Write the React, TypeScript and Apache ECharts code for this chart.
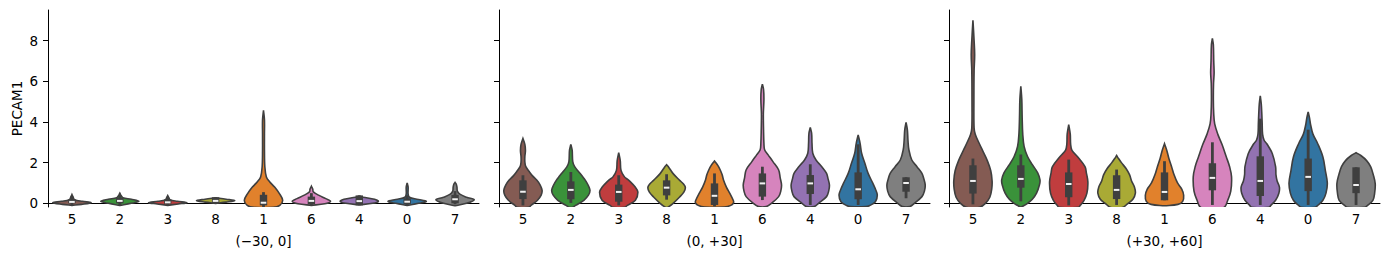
import React, { useEffect, useRef } from "react";
import * as echarts from "echarts";

const categories = ["5", "2", "3", "8", "1", "6", "4", "0", "7"];
const yTicks = [0, 2, 4, 6, 8];
const panelLabels = ["(\u221230, 0]", "(0, +30]", "(+30, +60]"];
const yName = "PECAM1";

// violin outlines: [value, relative half-width]
const profilesEarly = [
  [[-0.1, 0], [-0.05, 0.5], [0.03, 1.0], [0.1, 0.55], [0.18, 0.14], [0.28, 0.07], [0.43, 0]],
  [[-0.1, 0], [0, 0.6], [0.1, 1.0], [0.2, 0.6], [0.28, 0.16], [0.38, 0.07], [0.5, 0]],
  [[-0.1, 0], [-0.03, 0.55], [0.03, 1.0], [0.1, 0.5], [0.17, 0.13], [0.27, 0.06], [0.38, 0]],
  [[0.0, 0], [0.06, 0.55], [0.13, 1.0], [0.2, 0.55], [0.27, 0]],
  [[-0.2, 0.5], [-0.1, 0.85], [0.15, 1.0], [0.48, 0.83], [0.8, 0.58], [1.05, 0.33], [1.3, 0.15], [1.8, 0.07], [2.6, 0.05], [3.4, 0.05], [4.1, 0.05], [4.57, 0]],
  [[-0.1, 0], [-0.02, 0.7], [0.1, 1.0], [0.23, 0.75], [0.39, 0.4], [0.56, 0.1], [0.7, 0.07], [0.84, 0]],
  [[-0.07, 0], [0, 0.7], [0.1, 1.0], [0.2, 0.8], [0.3, 0.2], [0.35, 0]],
  [[-0.1, 0], [0, 0.6], [0.1, 1.0], [0.2, 0.5], [0.3, 0.12], [0.45, 0.05], [0.8, 0.05], [1.0, 0]],
  [[-0.12, 0], [0, 0.6], [0.18, 1.0], [0.3, 0.6], [0.45, 0.25], [0.6, 0.12], [0.8, 0.1], [0.95, 0.06], [1.03, 0]],
];
const profilesMid = [
  [[-0.2, 0.3], [-0.1, 0.42], [0.15, 0.76], [0.4, 0.95], [0.64, 1.0], [0.9, 0.9], [1.13, 0.73], [1.35, 0.5], [1.54, 0.34], [1.8, 0.15], [2.03, 0.1], [2.3, 0.1], [2.6, 0.13], [2.9, 0.1], [3.18, 0]],
  [[-0.2, 0.08], [-0.1, 0.25], [0.15, 0.68], [0.4, 0.92], [0.64, 1.0], [0.9, 0.9], [1.13, 0.76], [1.35, 0.58], [1.54, 0.42], [1.8, 0.2], [2.05, 0.1], [2.6, 0.07], [2.9, 0]],
  [[-0.2, 0.3], [-0.1, 0.45], [0.15, 0.87], [0.56, 1.0], [0.8, 0.86], [0.97, 0.7], [1.15, 0.5], [1.3, 0.3], [1.62, 0.12], [2.1, 0.08], [2.49, 0]],
  [[-0.2, 0.05], [0, 0.34], [0.31, 0.68], [0.55, 0.9], [0.77, 0.98], [0.95, 0.88], [1.13, 0.68], [1.46, 0.34], [1.79, 0.1], [1.9, 0]],
  [[-0.18, 0.5], [-0.1, 0.85], [0.05, 1.0], [0.25, 0.93], [0.49, 0.8], [0.8, 0.62], [1.15, 0.47], [1.4, 0.4], [1.64, 0.3], [1.85, 0.18], [2.08, 0]],
  [[-0.16, 0.2], [0, 0.47], [0.33, 0.85], [0.6, 0.96], [0.9, 1.0], [1.25, 0.93], [1.64, 0.85], [2.05, 0.55], [2.38, 0.3], [2.62, 0.12], [2.95, 0.08], [3.6, 0.06], [4.4, 0.05], [5.1, 0.08], [5.6, 0.06], [5.86, 0]],
  [[-0.16, 0.2], [0, 0.43], [0.33, 0.85], [0.6, 0.96], [0.9, 1.0], [1.2, 0.93], [1.47, 0.85], [1.8, 0.6], [2.13, 0.3], [2.46, 0.13], [2.95, 0.09], [3.44, 0.07], [3.73, 0]],
  [[-0.16, 0.4], [-0.11, 0.6], [0.08, 0.9], [0.41, 1.0], [0.7, 0.9], [0.98, 0.77], [1.47, 0.52], [1.97, 0.35], [2.46, 0.18], [2.95, 0.1], [3.36, 0]],
  [[-0.16, 0.2], [0, 0.43], [0.33, 0.83], [0.6, 0.96], [0.9, 1.0], [1.2, 0.93], [1.47, 0.83], [1.8, 0.57], [2.13, 0.3], [2.62, 0.15], [3.1, 0.1], [3.6, 0.07], [3.98, 0]],
];
const profilesLate = [
  [[-0.2, 0.35], [0, 0.65], [0.3, 0.88], [0.7, 0.98], [1.1, 1.0], [1.6, 0.93], [2.1, 0.75], [2.6, 0.5], [3.0, 0.3], [3.4, 0.12], [3.7, 0.06], [5.0, 0.05], [6.5, 0.06], [7.3, 0.09], [8.0, 0.06], [9.0, 0]],
  [[-0.2, 0.0], [0, 0.35], [0.2, 0.6], [0.5, 0.82], [0.9, 0.97], [1.15, 1.0], [1.5, 0.88], [1.9, 0.6], [2.3, 0.35], [2.8, 0.17], [3.4, 0.1], [4.2, 0.07], [5.1, 0.05], [5.75, 0]],
  [[-0.2, 0.5], [-0.1, 0.6], [0.15, 0.8], [0.5, 0.95], [1.05, 1.0], [1.5, 0.92], [1.8, 0.85], [2.3, 0.45], [2.6, 0.17], [2.9, 0.1], [3.4, 0.08], [3.87, 0]],
  [[-0.2, 0.3], [0, 0.6], [0.2, 0.85], [0.5, 0.98], [0.8, 0.93], [1.1, 0.78], [1.4, 0.68], [1.7, 0.5], [2.0, 0.25], [2.2, 0.1], [2.35, 0]],
  [[-0.12, 0], [-0.05, 0.7], [0.1, 0.95], [0.4, 1.0], [0.7, 0.9], [1.0, 0.68], [1.4, 0.5], [1.8, 0.37], [2.2, 0.23], [2.6, 0.12], [2.93, 0]],
  [[-0.2, 0.6], [0.15, 0.8], [0.6, 0.96], [1.3, 1.0], [1.8, 0.9], [2.3, 0.72], [2.9, 0.5], [3.4, 0.28], [3.9, 0.12], [4.4, 0.07], [5.1, 0.05], [5.9, 0.06], [6.4, 0.09], [7.0, 0.07], [7.8, 0.05], [8.1, 0]],
  [[-0.2, 0.45], [-0.1, 0.55], [0.15, 0.8], [0.5, 0.97], [0.8, 1.0], [1.1, 0.88], [1.4, 0.82], [1.8, 0.8], [2.44, 0.63], [2.93, 0.34], [3.1, 0.2], [3.4, 0.12], [3.9, 0.1], [4.4, 0.08], [4.9, 0.05], [5.28, 0]],
  [[-0.2, 0.35], [-0.1, 0.5], [0.15, 0.77], [0.5, 0.93], [1.0, 1.0], [1.6, 0.9], [2.28, 0.77], [2.93, 0.5], [3.4, 0.25], [3.9, 0.12], [4.2, 0.07], [4.49, 0]],
  [[-0.2, 0.45], [-0.1, 0.6], [0.15, 0.88], [0.5, 0.97], [0.97, 1.0], [1.4, 0.9], [1.8, 0.76], [2.1, 0.55], [2.35, 0.25], [2.49, 0]],
];

// box stats: [whisker low, q1, median, q3, whisker high]
const boxesEarly = [
  [-0.1, 0, 0.07, 0.2, 0.35],
  [-0.1, 0, 0.12, 0.27, 0.4],
  [-0.1, -0.02, 0.05, 0.2, 0.32],
  [0, 0, 0.12, 0.3, 0.3],
  [-0.18, -0.1, 0.03, 0.42, 0.55],
  [-0.1, -0.05, 0.12, 0.33, 0.5],
  [-0.1, -0.1, 0.11, 0.39, 0.39],
  [-0.1, -0.05, 0.08, 0.25, 0.4],
  [-0.05, 0, 0.2, 0.42, 0.6],
];
const boxesMid = [
  [-0.1, 0.21, 0.57, 1.13, 1.38],
  [0.02, 0.2, 0.66, 1.08, 1.54],
  [-0.1, 0.08, 0.56, 0.92, 1.38],
  [0.18, 0.39, 0.77, 1.13, 1.43],
  [-0.15, -0.08, 0.37, 0.98, 1.47],
  [0.16, 0.33, 0.98, 1.47, 1.8],
  [-0.08, 0.46, 0.98, 1.39, 1.92],
  [-0.08, 0.2, 0.69, 1.52, 2.9],
  [0.25, 0.57, 1.0, 1.28, 1.28],
];
const boxesLate = [
  [-0.05, 0.48, 1.1, 1.87, 2.2],
  [0.1, 0.77, 1.2, 1.87, 2.4],
  [-0.1, 0.3, 0.95, 1.52, 2.15],
  [-0.08, 0.21, 0.66, 1.38, 1.66],
  [0.15, 0.15, 0.56, 1.52, 2.07],
  [-0.08, 0.64, 1.25, 1.97, 3.0],
  [-0.08, 0.36, 1.1, 2.31, 4.16],
  [-0.08, 0.6, 1.3, 2.2, 3.62],
  [-0.08, 0.5, 0.9, 1.77, 1.77],
];

const palette = ["#845b53", "#3a923a", "#c03d3e", "#a9aa35", "#e1812c", "#d684bd", "#9372b2", "#3274a1", "#7f7f7f"];
const FONT = "DejaVu Sans";
const FS = 13.5;
const DARK = "#3f3f3f";

const panels = [
  { profiles: profilesEarly, boxes: boxesEarly },
  { profiles: profilesMid, boxes: boxesMid },
  { profiles: profilesLate, boxes: boxesLate },
];
const gridLefts = [48, 499, 949];

function buildOption() {
  const grid = gridLefts.map((l) => ({ left: l, top: 10, width: 431, height: 197 }));
  const xAxis = panelLabels.map((name, k) => ({
    type: "category",
    gridIndex: k,
    data: categories,
    name,
    nameLocation: "middle",
    nameGap: 27,
    nameTextStyle: { fontFamily: FONT, fontSize: FS, color: "#000" },
    axisLine: { lineStyle: { color: "#000", width: 1 } },
    axisTick: { alignWithLabel: true, length: 5, lineStyle: { color: "#000" } },
    axisLabel: { fontFamily: FONT, fontSize: FS, color: "#000", margin: 5 },
    splitLine: { show: false },
  }));
  const yAxis = panelLabels.map((_, k) => ({
    type: "value",
    gridIndex: k,
    min: -0.18,
    max: 9.5,
    name: k === 0 ? yName : "",
    nameLocation: "middle",
    nameGap: 24,
    nameTextStyle: { fontFamily: FONT, fontSize: FS, color: "#000" },
    axisLine: { show: true, lineStyle: { color: "#000", width: 1 } },
    axisTick: { show: true, length: 5, customValues: yTicks, lineStyle: { color: "#000" } },
    axisLabel: { show: k === 0, customValues: yTicks, fontFamily: FONT, fontSize: FS, color: "#000", margin: 10 },
    splitLine: { show: false },
  }));
  const series = panels.map((p, k) => ({
    type: "custom",
    xAxisIndex: k,
    yAxisIndex: k,
    clip: true,
    data: categories.map((_, i) => [i, 0]),
    renderItem: (params: any, api: any) => {
      const i = api.value(0);
      const prof = p.profiles[i];
      const box = p.boxes[i];
      const cx = api.coord([i, 0])[0];
      const band = api.size([1, 0])[0];
      const hw = band * 0.4;
      const right = prof.map(([v, w]: number[]) => [cx + w * hw, api.coord([i, v])[1]]);
      const left = prof
        .slice()
        .reverse()
        .map(([v, w]: number[]) => [cx - w * hw, api.coord([i, v])[1]]);
      const pts = right.concat(left);
      const yOf = (v: number) => api.coord([i, v])[1];
      const [wl, q1, med, q3, wh] = box;
      return {
        type: "group",
        children: [
          {
            type: "polygon",
            shape: { points: pts, smooth: 0.35 },
            style: { fill: palette[i], stroke: DARK, lineWidth: 1.6 },
          },
          {
            type: "rect",
            shape: { x: cx - 1.4, y: yOf(wh), width: 2.8, height: yOf(wl) - yOf(wh) },
            style: { fill: DARK },
          },
          {
            type: "rect",
            shape: { x: cx - 3.7, y: yOf(q3), width: 7.4, height: yOf(q1) - yOf(q3) },
            style: { fill: DARK },
          },
          {
            type: "rect",
            shape: { x: cx - 2.8, y: yOf(med) - 1, width: 5.6, height: 2 },
            style: { fill: "#f2f2f2" },
          },
        ],
      };
    },
  }));
  return { animation: false, grid, xAxis, yAxis, series };
}

export default function App() {
  const ref = useRef<HTMLDivElement>(null);
  useEffect(() => {
    const chart = echarts.init(ref.current as HTMLDivElement, null, { renderer: "svg" });
    chart.setOption(buildOption() as any);
    return () => chart.dispose();
  }, []);
  return (
    <div
      ref={ref}
      style={{ position: "absolute", left: 0, top: 0, width: 1390, height: 260, background: "#fff" }}
    />
  );
}
